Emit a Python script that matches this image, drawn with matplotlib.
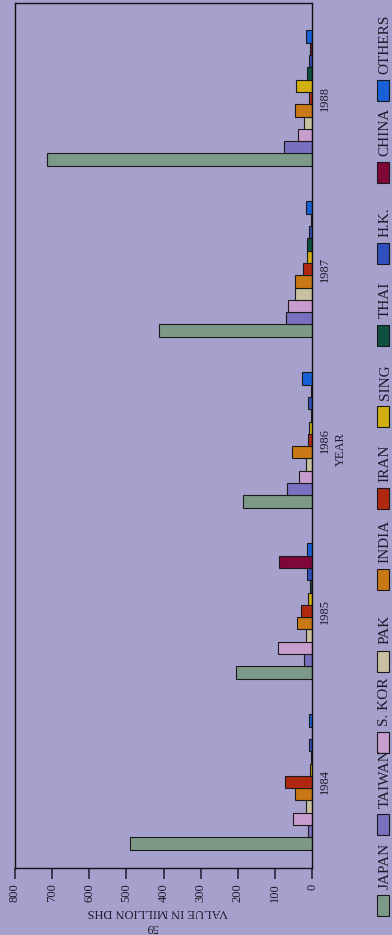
import matplotlib
matplotlib.use("Agg")
import matplotlib.pyplot as plt
from matplotlib.patches import Rectangle
import numpy as np

# data (million DHS)
years = ["1984", "1985", "1986", "1987", "1988"]
countries = ["JAPAN", "TAIWAN", "S. KOR", "PAK", "INDIA", "IRAN",
             "SING", "THAI", "H.K.", "CHINA", "OTHERS"]
japan = [490, 205, 187, 413, 713]
taiwan = [10, 22, 67, 71, 76]
s_kor = [51, 92, 36, 64, 39]
pak = [15, 16, 16, 45, 22]
india = [47, 41, 55, 46, 47]
iran = [74, 30, 11, 23, 7]
sing = [6, 11, 7, 13, 43]
thai = [3, 6, 3, 13, 14]
hk = [8, 13, 10, 9, 9]
china = [0, 89, 4, 4, 6]
others = [7, 13, 27, 17, 15]
series = [japan, taiwan, s_kor, pak, india, iran, sing, thai, hk, china, others]

colors = ["#7d9a88", "#7a70c0", "#c89ccc", "#c8c0a0", "#c87814", "#b02810",
          "#d0b010", "#105040", "#3050c0", "#800838", "#1860d8"]
bg = "#a6a1cc"
ink = "#1c1a2c"

plt.rcParams["font.family"] = ["Liberation Serif", "DejaVu Serif"]

W, H = 392, 935
fig = plt.figure(figsize=(W / 100, H / 100), dpi=100, facecolor=bg)


def fx(x):
    return x / W


def fy(y):
    return 1 - y / H


ax = fig.add_axes([fx(15), fy(868), fx(312) - fx(15), fy(3) - fy(868)])
ax.set_facecolor(bg)

bar_h = 0.072
ypos = np.arange(len(years))
for i, (name, vals) in enumerate(zip(countries, series)):
    ax.barh(ypos + (i - 5) * bar_h, vals, height=bar_h, color=colors[i],
            edgecolor="#1a1a1a", linewidth=0.8, label=name)

ax.set_xlim(800, 0)
ax.set_ylim(-0.503, 4.556)
ax.set_xticks(range(0, 801, 100))
ax.set_xticklabels([str(v) for v in range(0, 801, 100)], rotation=90,
                   fontsize=9, color=ink)
ax.tick_params(axis="x", direction="out", length=8, width=1.1, pad=3, colors=ink)

ax.yaxis.tick_right()
ax.set_yticks(ypos)
ax.set_yticklabels(years, rotation=90, va="center", fontsize=9, color=ink)
ax.tick_params(axis="y", length=0, pad=5)

for s in ax.spines.values():
    s.set_color("#111111")
    s.set_linewidth(1.0)

fig.text(fx(158), fy(912), "VALUE IN MILLION DHS", rotation=180,
         ha="center", va="center", fontsize=9, color=ink)
fig.text(fx(152), fy(927), "59", rotation=180, ha="center", va="center",
         fontsize=9, color=ink)
fig.text(fx(341), fy(449), "YEAR", rotation=90, ha="center", va="center",
         fontsize=9, color=ink)

# legend drawn by hand: the whole page is turned on its side
step = 81.5
for i, (name, c) in enumerate(zip(countries, colors)):
    top = 895 - i * step
    fig.add_artist(Rectangle((fx(377), fy(top + 21)), fx(12), 21 / H,
                             transform=fig.transFigure, facecolor=c,
                             edgecolor="#1a1a1a", linewidth=0.8))
    fig.text(fx(385), fy(top - 6), name, rotation=90, ha="center",
             va="bottom", fontsize=11, color=ink)

fig.savefig("out.png", dpi=100, facecolor=bg)
